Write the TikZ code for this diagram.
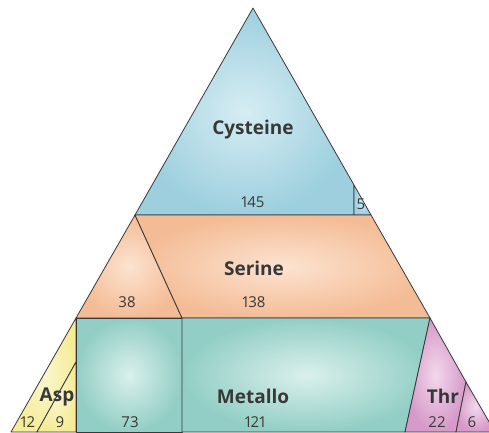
\documentclass[tikz,border=0pt]{standalone}
\usepackage{fontspec}
\setmainfont[Numbers=Proportional]{Open Sans}
\definecolor{cysout}{HTML}{9DCFDE}
\definecolor{cysin}{HTML}{D6EDF3}
\definecolor{serout}{HTML}{F4BC96}
\definecolor{serin}{HTML}{FCE3D0}
\definecolor{metout}{HTML}{92CEC5}
\definecolor{metin}{HTML}{DAF0EC}
\definecolor{aspout}{HTML}{F5EC98}
\definecolor{aspin}{HTML}{FBF6CF}
\definecolor{throut}{HTML}{D699C9}
\definecolor{thrin}{HTML}{F2D8EC}
\definecolor{ink}{HTML}{383838}
\tikzset{
  region/.style={draw=ink, line width=0.8pt, line join=round},
  famlabel/.style={font=\fontsize{19}{19}\selectfont\bfseries, text=ink, inner sep=0pt},
  numlabel/.style={font=\fontsize{15}{15}\selectfont, text=ink, inner sep=0pt}
}
\begin{document}
\begin{tikzpicture}[x=1pt, y=-1pt]
            \useasboundingbox (0,0) rectangle (489,432);
            \clip (0,0) rectangle (489,432);

            % 顶层 Cysteine
            \shade[region, inner color=cysin, outer color=cysout] (253,8) -- (354,185) -- (354,215) -- (135,215) -- cycle;
            \shade[region, inner color=cysin, outer color=cysout] (354,185) -- (371,215) -- (354,215) -- cycle;

            % 中层 Serine
            \shade[region, inner color=serin, outer color=serout] (135,215) -- (182,318) -- (76,318) -- cycle;
            \shade[region, inner color=serin, outer color=serout] (135,215) -- (371,215) -- (430,318) -- (182,318) -- cycle;

            % 底层左 Asp
            \shade[region, inner color=aspin, outer color=aspout] (76,318) -- (76,362) -- (37,432) -- (11,432) -- cycle;
            \shade[region, inner color=aspin, outer color=aspout] (76,362) -- (76,432) -- (37,432) -- cycle;

            % 底层中 Metallo
            \shade[region, inner color=metin, outer color=metout] (76,318) -- (182,318) -- (182,432) -- (76,432) -- cycle;
            \shade[region, inner color=metin, outer color=metout] (182,318) -- (430,318) -- (405,432) -- (182,432) -- cycle;

            % 底层右 Thr
            \shade[region, inner color=thrin, outer color=throut] (430,318) -- (466,382) -- (456,432) -- (405,432) -- cycle;
            \shade[region, inner color=thrin, outer color=throut] (466,382) -- (495,432) -- (456,432) -- cycle;

            % 名称
            \node[famlabel] (cys) at (253,130) {Cysteine};
            \node[famlabel] (ser) at (254,268) {Serine};
            \node[famlabel] (met) at (253,396) {Metallo};
            \node[famlabel] (asp) at (57,397) {Asp};
            \node[famlabel] (thr) at (443,396) {Thr};

            % 数目
            \node[numlabel] (cysnum) at (253,202) {145};
            \node[numlabel] (smallnum) at (361,204) {5};
            \node[numlabel] (serleft) at (127,302) {38};
            \node[numlabel] (sernum) at (254,302) {138};
            \node[numlabel] (metleft) at (130,422) {73};
            \node[numlabel] (metnum) at (255,422) {121};
            \node[numlabel] (aspa) at (28,422) {12};
            \node[numlabel] (aspb) at (60,422) {9};
            \node[numlabel] (thra) at (437,422) {22};
            \node[numlabel] (thrb) at (472,422) {6};
        \end{tikzpicture}
\end{document}
